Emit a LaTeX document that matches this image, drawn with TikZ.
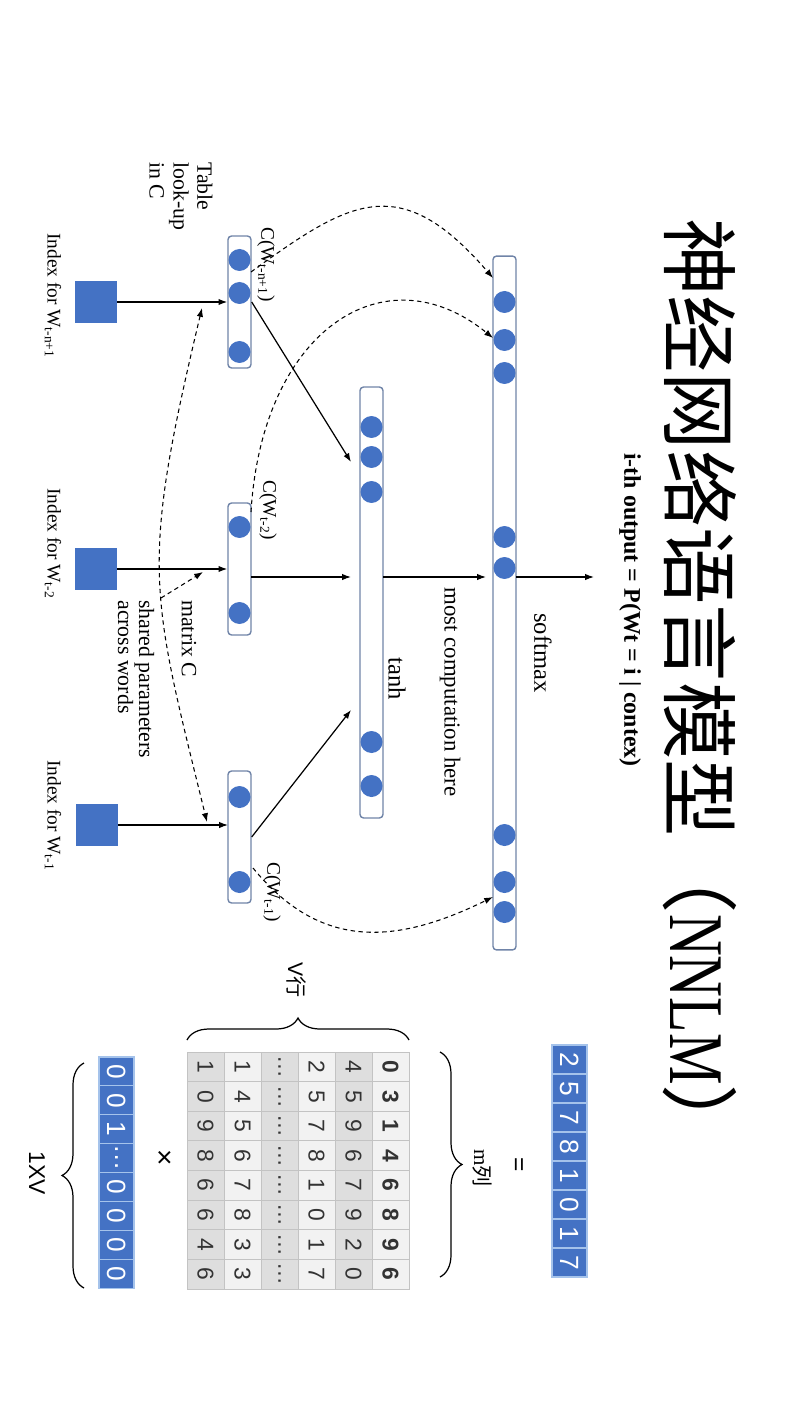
\documentclass[tikz,border=0pt]{standalone}
\usepackage{fontspec}
\usepackage{graphicx}
\setmainfont{Liberation Serif}
\newfontfamily\cjkfont{Noto Sans CJK SC}
\newfontfamily\numfont{Liberation Sans}
\usetikzlibrary{arrows.meta,decorations.pathreplacing}

\definecolor{nnblue}{RGB}{68,114,196}
\definecolor{barline}{RGB}{112,132,168}
\definecolor{cellline}{RGB}{195,195,195}
\definecolor{vecline}{RGB}{165,195,235}
\definecolor{row1}{RGB}{242,242,242}
\definecolor{row2}{RGB}{222,222,222}
\colorlet{row3}{row1}\colorlet{row4}{row2}\colorlet{row5}{row1}\colorlet{row6}{row2}

\begin{document}
\begin{tikzpicture}[x=0.02cm,y=0.02cm,rotate=-90,transform shape,
  font=\fontsize{13}{15}\selectfont,
  barbox/.style={draw=barline,line width=0.8pt,rounded corners=2pt,inner sep=0pt,minimum height=0.46cm},
  neuron/.style={circle,fill=nnblue,inner sep=0pt,minimum size=0.44cm},
  sqbox/.style={fill=nnblue,inner sep=0pt,minimum size=0.84cm},
  lbl/.style={anchor=west,inner sep=0pt},
  smalltxt/.style={font=\fontsize{11}{13}\selectfont},
  link/.style={-{Latex[length=5pt,width=3.6pt]},line width=0.7pt},
  share/.style={dash pattern=on 2.5pt off 2pt,line width=0.6pt,-{Latex[length=5pt,width=3.6pt]}},
  cellbox/.style={draw=cellline,line width=0.5pt,minimum width=0.5925cm,minimum height=0.74cm,inner sep=0pt,text=black!80,font=\numfont\fontsize{13}{13}\selectfont},
  vecbox/.style={fill=nnblue,draw=vecline,line width=0.6pt,text=white,minimum width=0.58cm,minimum height=0.7cm,inner sep=0pt,font=\numfont\fontsize{15}{15}\selectfont},
  curly/.style={decorate,decoration={brace,amplitude=0.44cm},line width=0.7pt}
]
\useasboundingbox (0,0) rectangle (1408,792);

%title
\node[lbl,font=\cjkfont\fontsize{44}{44}\selectfont] (title) at (218,700) {神经网络语言模型（{\rmfamily\scalebox{0.75}[1]{NNLM}}）};
\node[lbl,font=\bfseries\fontsize{13.6}{15}\selectfont] (outp) at (453,630) {i-th output = P(Wt = i | contex)};

%layers
\node[barbox,minimum width=13.88cm] (soft) at (603,504.5) {};
\node[barbox,minimum width=8.62cm] (tanh) at (602.5,371.5) {};
\node[barbox,minimum width=2.64cm] (in1) at (302,239.5) {};
\node[barbox,minimum width=2.64cm] (in2) at (569,239.5) {};
\node[barbox,minimum width=2.64cm] (in3) at (837,239.5) {};

%units
\foreach \p [count=\k] in {302,340,373,537,568,835,882,912}
  \node[neuron] (s\k) at (\p,504.5) {};
\foreach \p [count=\k] in {427,457,492,742,786}
  \node[neuron] (h\k) at (\p,371.5) {};
\foreach \p [count=\k] in {260,293,352}
  \node[neuron] (a\k) at (\p,239.5) {};
\node[neuron] (b1) at (527,239.5) {};
\node[neuron] (b2) at (613,239.5) {};
\node[neuron] (c1) at (797,239.5) {};
\node[neuron] (c2) at (882,239.5) {};

%word indices
\node[sqbox] (w1) at (302,96) {};
\node[sqbox] (w2) at (569,96) {};
\node[sqbox] (w3) at (825,97) {};
\coordinate (r3) at (825,228);
\draw[link] (w1.north) -- (in1.south);
\draw[link] (w2.north) -- (in2.south);
\draw[link] (w3.north) -- (r3);

%feed forward
\coordinate (t1) at (462,351);
\coordinate (t2s) at (577,251); \coordinate (t2) at (577,351);
\coordinate (t3) at (710,351);
\coordinate (us) at (577,383); \coordinate (u) at (577,486);
\coordinate (os) at (577,516); \coordinate (out) at (577,594);
\draw[link] (in1.north) -- (t1);
\draw[link] (t2s) -- (t2);
\draw[link] (in3.north) -- (t3);
\draw[link] (us) -- (u);
\draw[link] (os) -- (out);

%direct connections (dashed)
\coordinate (e1) at (272,251); \coordinate (f1) at (278,493);
\coordinate (e2) at (512,251); \coordinate (f2) at (338,493);
\coordinate (e3) at (868,253); \coordinate (f3) at (897,493);
\draw[share] (e1) .. controls (200,350) and (170,400) .. (f1);
\draw[share] (e2) .. controls (330,262) and (250,385) .. (f2);
\draw[share] (e3) .. controls (950,320) and (945,395) .. (f3);

%shared matrix C
\coordinate (g1) at (308,202); \coordinate (g3) at (822,207);
\coordinate (g2) at (598,161); \coordinate (g4) at (572,203);
\draw[share,{Latex[length=5pt,width=3.6pt]}-{Latex[length=5pt,width=3.6pt]}] (g1) .. controls (568,140) and (590,150) .. (g3);
\draw[share] (g2) -- (g4);

%labels
\node[lbl,align=left,font=\fontsize{12.4}{13.6}\selectfont] (lookup) at (162,181) {Table\\look-up\\in C};
\node[lbl,smalltxt] (n1) at (233,53) {Index for W\textsubscript{t-n+1}};
\node[lbl,smalltxt] (n2) at (488,53) {Index for W\textsubscript{t-2}};
\node[lbl,smalltxt] (n3) at (760,53) {Index for W\textsubscript{t-1}};
\node[lbl,smalltxt] (cw1) at (227,266) {C(W\textsubscript{t-n+1})};
\node[lbl,smalltxt] (cw2) at (480,268) {C(W\textsubscript{t-2})};
\node[lbl,smalltxt] (cw3) at (862,272) {C(W\textsubscript{t-1})};
\node[lbl,font=\fontsize{12.4}{13.6}\selectfont] (mat) at (600,189) {matrix C};
\node[lbl,align=left,font=\fontsize{12.4}{12}\selectfont] (shared) at (600,136) {shared parameters\\across words};
\node[lbl,font=\fontsize{14}{16}\selectfont] (smx) at (613,543) {softmax};
\node[lbl] (most) at (587,450) {most computation here};
\node[lbl,font=\fontsize{14}{16}\selectfont] (th) at (657,397) {tanh};

%lookup table
\foreach \row [count=\i] in {{0,3,1,4,6,8,9,6},{4,5,9,6,7,9,2,0},{2,5,7,8,1,0,1,7},{…,…,…,…,…,…,…,…},{1,4,5,6,7,8,3,3},{1,0,9,8,6,6,4,6}}
  \foreach \v [count=\j] in \row
    \node[cellbox,fill=row\i] (tab-\i-\j) at ({1052+29.625*(\j-0.5)},{409-37*(\i-0.5)}) {\ifnum\i=1 \bfseries\fi\v};
\foreach \v [count=\j] in {2,5,7,8,1,0,1,7}
  \node[vecbox] (res-\j) at ({1045+29*(\j-0.5)},569.5) {\v};
\foreach \v [count=\j] in {0,0,1,…,0,0,0,0}
  \node[vecbox,minimum width=0.578cm] (hot-\j) at ({1057+28.9*(\j-0.5)},116.5) {\v};

%braces
\draw[curly] (1040,187) -- (1040,409);
\draw[curly] (1052,440) -- (1277,440);
\draw[curly] (1288,84) -- (1063,84);
\node[font=\fontsize{12}{14}\selectfont] (vlab) at (980,296) {\numfont V\cjkfont 行};
\node[font=\fontsize{12}{14}\selectfont] (mlab) at (1168,482) {m\cjkfont 列};
\node[font=\numfont\fontsize{14}{16}\selectfont] (eq) at (1165,517) {=};
\node[font=\numfont\fontsize{16}{18}\selectfont] (times) at (1158,163) {×};
\node[font=\numfont\fontsize{13}{15}\selectfont] (dimlab) at (1173,37) {1XV};
\end{tikzpicture}
\end{document}
